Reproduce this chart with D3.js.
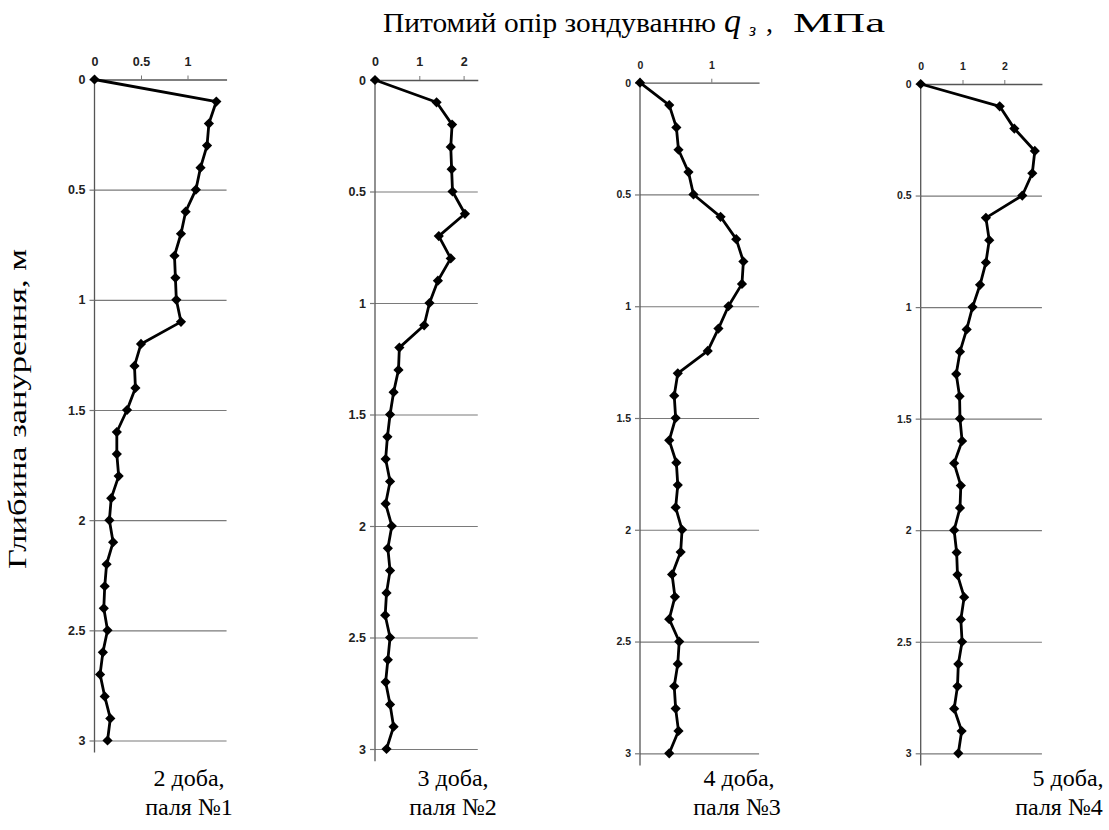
<!DOCTYPE html>
<html><head><meta charset="utf-8">
<script src="https://cdn.jsdelivr.net/npm/d3@7"></script>
<style>
html,body{margin:0;padding:0;background:#fff;}
svg{display:block;}
</style></head>
<body>
<svg id="chart" width="1109" height="830"></svg>
<script>
// ---- data ----
const depths = [0,0.1,0.2,0.3,0.4,0.5,0.6,0.7,0.8,0.9,1.0,1.1,1.2,1.3,1.4,1.5,1.6,1.7,1.8,1.9,2.0,2.1,2.2,2.3,2.4,2.5,2.6,2.7,2.8,2.9,3.0];
const pile1 = [0,1.31,1.23,1.21,1.14,1.09,0.98,0.93,0.86,0.87,0.88,0.93,0.50,0.43,0.44,0.35,0.24,0.24,0.26,0.18,0.16,0.20,0.13,0.11,0.10,0.14,0.09,0.06,0.11,0.17,0.14];
const pile2 = [0,1.39,1.74,1.71,1.73,1.75,2.03,1.44,1.71,1.42,1.23,1.11,0.55,0.53,0.42,0.34,0.28,0.24,0.34,0.24,0.38,0.29,0.34,0.26,0.23,0.34,0.29,0.24,0.34,0.42,0.26];
const pile3 = [0,0.41,0.51,0.54,0.68,0.75,1.13,1.35,1.45,1.43,1.24,1.10,0.95,0.53,0.48,0.50,0.41,0.51,0.53,0.50,0.59,0.57,0.45,0.49,0.41,0.55,0.53,0.48,0.50,0.54,0.41];
const pile4 = [0,1.89,2.24,2.73,2.67,2.43,1.56,1.64,1.56,1.42,1.24,1.10,0.94,0.85,0.93,0.94,0.99,0.80,0.96,0.94,0.80,0.86,0.88,1.04,0.96,0.99,0.90,0.88,0.80,0.98,0.90];
const series = [pile1, pile2, pile3, pile4];
const xTicks = [[0,0.5,1],[0,1,2],[0,1],[0,1,2]];
const yTicks = [0,0.5,1,1.5,2,2.5,3];
const captionsTop = ["2 доба,","3 доба,","4 доба,","5 доба,"];
const captionsBottom = ["паля №1","паля №2","паля №3","паля №4"];
const titleMain = "Питомий опір зондуванню";
const titleSym = "q";
const titleSub = "з";
const titleComma = ",";
const titleUnit = "МПа";
const yTitle = "Глибина занурення, м";

// ---- layout ----
const panels = [
  {left:94.5, xMax:1.42, pxPerUnit:93,  top:79.5, bottom:740.5, fs:12.5, lblY:61.5, cap:[189,189]},
  {left:375,  xMax:2.32, pxPerUnit:44.3, top:80,  bottom:749,   fs:12.5, lblY:61.5, cap:[453,453]},
  {left:640,  xMax:1.67, pxPerUnit:71.3, top:82.7, bottom:753.3, fs:10.5, lblY:65, cap:[739,737]},
  {left:920.7,xMax:2.9,  pxPerUnit:41.8, top:84,  bottom:753.3, fs:10.5, lblY:66, cap:[1068,1059]}
];

const svg = d3.select("#chart");
const tickFont = "'Liberation Sans', Arial, sans-serif";
const serif = "'Liberation Serif','Times New Roman', serif";

panels.forEach((p, i) => {
  const x = d3.scaleLinear().domain([0, p.xMax]).range([p.left, p.left + p.xMax * p.pxPerUnit]);
  const y = d3.scaleLinear().domain([0, 3]).range([p.top, p.bottom]);
  const g = svg.append("g");
  const w = x(p.xMax) - p.left;

  // grid lines (horizontal)
  g.append("g").attr("transform", `translate(${p.left},0)`)
    .call(d3.axisLeft(y).tickValues(yTicks.slice(1)).tickSize(-w).tickFormat(""))
    .call(s => s.select(".domain").remove())
    .call(s => s.selectAll("line").attr("stroke", "#7a7a7a").attr("stroke-width", 1.2));

  // left axis
  const ya = g.append("g").attr("transform", `translate(${p.left},0)`)
    .call(d3.axisLeft(y).tickValues(yTicks).tickSize(5).tickSizeOuter(0).tickPadding(4).tickFormat(d3.format("")));
  ya.select(".domain").attr("d", `M0,${p.top}V${y(3.055)}`).attr("stroke", "#555").attr("stroke-width", 1.3);
  ya.selectAll(".tick line").attr("stroke", "#777").attr("stroke-width", 1.2);
  ya.selectAll("text").attr("font-family", tickFont).attr("font-size", p.fs).attr("font-weight", "bold").attr("fill", "#222");

  // top axis
  const xa = g.append("g").attr("transform", `translate(0,${p.top})`)
    .call(d3.axisTop(x).tickValues(xTicks[i]).tickSize(4).tickSizeOuter(0).tickFormat(d3.format("")));
  xa.select(".domain").attr("stroke", "#555").attr("stroke-width", 1.3);
  xa.selectAll(".tick line").attr("stroke", "#777");
  xa.selectAll("text").attr("font-family", tickFont).attr("font-size", p.fs).attr("font-weight", "bold").attr("fill", "#222")
    .attr("y", null).attr("dy", null)
    .attr("transform", `translate(0,${p.lblY - p.top + p.fs*0.36})`);

  // line
  const data = depths.map((d, k) => [series[i][k], d]);
  g.append("path").datum(data)
    .attr("fill", "none").attr("stroke", "#000").attr("stroke-width", 2.8).attr("stroke-linejoin", "round")
    .attr("d", d3.line().x(d => x(d[0])).y(d => y(d[1])));

  // markers
  g.selectAll("path.mk").data(data).join("path").attr("class", "mk")
    .attr("d", d3.symbol().type(d3.symbolSquare).size(52)())
    .attr("transform", d => `translate(${x(d[0])},${y(d[1])}) rotate(45)`)
    .attr("fill", "#000");

  // captions
  svg.append("text").attr("x", p.cap[0]).attr("y", 786).attr("text-anchor", "middle")
    .attr("font-family", serif).attr("font-size", 24).text(captionsTop[i]);
  svg.append("text").attr("x", p.cap[1]).attr("y", 815).attr("text-anchor", "middle")
    .attr("font-family", serif).attr("font-size", 24).text(captionsBottom[i]);
});

// title
const tf = svg.append("g").attr("font-family", serif);
tf.append("text").attr("x", 383).attr("y", 32).attr("font-size", 28)
  .attr("textLength", 333).attr("lengthAdjust", "spacingAndGlyphs").text(titleMain);
tf.append("text").attr("x", 724).attr("y", 32).attr("font-size", 34).attr("font-style", "italic").text(titleSym);
tf.append("text").attr("x", 749).attr("y", 36).attr("font-size", 18).attr("font-style", "italic").text(titleSub);
tf.append("text").attr("x", 766).attr("y", 32).attr("font-size", 28).text(titleComma);
tf.append("text").attr("x", 885).attr("y", 32).attr("font-size", 28).attr("text-anchor", "end")
  .attr("textLength", 92).attr("lengthAdjust", "spacingAndGlyphs").text(titleUnit);

// y title
svg.append("text").attr("transform", "translate(26,409) rotate(-90)")
  .attr("text-anchor", "middle").attr("font-family", serif).attr("font-size", 25)
  .attr("textLength", 320).attr("lengthAdjust", "spacingAndGlyphs").text(yTitle);
</script>
</body></html>
